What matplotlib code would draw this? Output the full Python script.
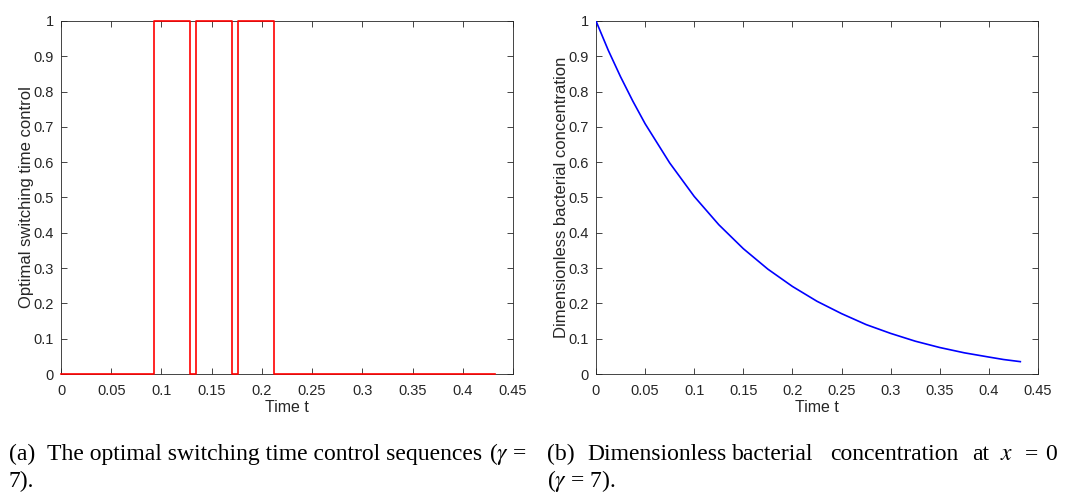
import numpy as np
import matplotlib.pyplot as plt

plt.rcParams['font.family'] = ['Liberation Sans', 'DejaVu Sans']
plt.rcParams['mathtext.fontset'] = 'stix'

# switching times of the control and its value after each switch
switch_t = [0.0, 0.0923, 0.1281, 0.1341, 0.1702, 0.1762, 0.2124, 0.432]
switch_u = [0, 1, 0, 1, 0, 1, 0, 0]

# bacterial concentration
conc_t = [0.0, 0.0125, 0.025, 0.0375, 0.05, 0.075, 0.1, 0.125, 0.15, 0.175, 0.2,
          0.225, 0.25, 0.275, 0.3, 0.325, 0.35, 0.375, 0.4, 0.415, 0.432]
conc_y = [1.0, 0.917, 0.842, 0.773, 0.709, 0.598, 0.503, 0.423, 0.355, 0.297, 0.248,
          0.206, 0.171, 0.140, 0.115, 0.093, 0.075, 0.060, 0.048, 0.041, 0.035]

xticks = [0, 0.05, 0.1, 0.15, 0.2, 0.25, 0.3, 0.35, 0.4, 0.45]
xtick_labels = ['0', '0.05', '0.1', '0.15', '0.2', '0.25', '0.3', '0.35', '0.4', '0.45']
yticks = [0, 0.1, 0.2, 0.3, 0.4, 0.5, 0.6, 0.7, 0.8, 0.9, 1]
ytick_labels = ['0', '0.1', '0.2', '0.3', '0.4', '0.5', '0.6', '0.7', '0.8', '0.9', '1']

gray = '#262626'

fig = plt.figure(figsize=(10.65, 4.92), dpi=100)
ax1 = fig.add_axes([61 / 1065, 118 / 492, 452 / 1065, 353 / 492])
ax2 = fig.add_axes([596 / 1065, 118 / 492, 442 / 1065, 353 / 492])


def style(ax, ylabel):
    ax.set_xlim(0, 0.45)
    ax.set_ylim(0, 1)
    ax.set_xticks(xticks)
    ax.set_xticklabels(xtick_labels)
    ax.set_yticks(yticks)
    ax.set_yticklabels(ytick_labels)
    ax.tick_params(direction='in', top=True, right=True, length=4, width=0.6,
                   colors=gray, labelsize=10.5)
    ax.tick_params(axis='x', pad=7)
    ax.tick_params(axis='y', pad=5)
    for s in ax.spines.values():
        s.set_color(gray)
        s.set_linewidth(0.6)
    ax.set_xlabel('Time t', fontsize=11.5, color=gray, labelpad=2)
    ax.set_ylabel(ylabel, fontsize=12, color=gray, labelpad=0)


ax1.step(switch_t, switch_u, where='post', color='#ff0000', lw=1.2,
         clip_on=False, zorder=5)
style(ax1, 'Optimal switching time control')

ax2.plot(conc_t, conc_y, color='#0000ff', lw=1.2, zorder=5)
style(ax2, 'Dimensionless bacterial concentration')

# captions
cap = dict(family='Liberation Serif', fontsize=17, color='black', va='baseline')
y1 = 1 - 460 / 492
y2 = 1 - 487 / 492
fig.text(9 / 1065, y1, '(a)', **cap)
fig.text(47 / 1065, y1, 'The optimal switching time control sequences', **cap)
fig.text(527 / 1065, y1, r'($\gamma$ =', ha='right', **cap)
fig.text(9 / 1065, y2, '7).', **cap)

words_b = ['(b)', 'Dimensionless', 'bacterial', 'concentration', 'at', r'$x$', '=', '0']
words_x = [547, 587, 732, 830, 972, 1000, 1025, 1045]
for w, x in zip(words_b, words_x):
    fig.text(x / 1065, y1, w, **cap)
fig.text(547 / 1065, y2, r'($\gamma$ = 7).', **cap)

fig.savefig('out.png', dpi=100)
